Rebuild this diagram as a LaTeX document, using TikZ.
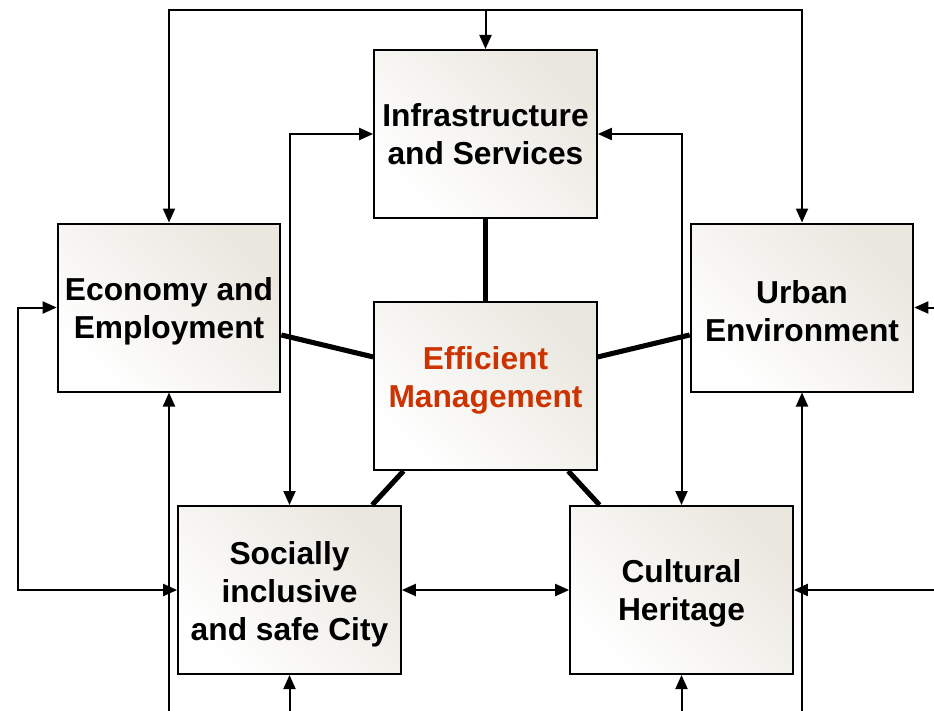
\documentclass[tikz,border=0pt]{standalone}
\usepackage{fontspec}
\setmainfont{Liberation Sans}
\usetikzlibrary{arrows.meta,calc}
\definecolor{boxgray}{RGB}{234,231,223}
\definecolor{mgmtred}{RGB}{204,51,0}
\tikzset{
  px/.style={x=0.75pt,y=-0.75pt},
  labelfont/.style={font=\fontsize{23.8}{28.5}\selectfont\bfseries},
  topic/.style={draw=black,line width=1.5pt,minimum width=167pt,minimum height=126pt,
    inner sep=0pt,align=center,top color=boxgray,bottom color=white,shading angle=-45,
    labelfont},
  conn/.style={line width=1.5pt,draw=black},
  tip/.style={-{Triangle[length=10.5pt,width=9pt]}},
  tips/.style={{Triangle[length=10.5pt,width=9pt]}-{Triangle[length=10.5pt,width=9pt]}},
  spoke/.style={line width=3.8pt,draw=black}
}
\begin{document}
\begin{tikzpicture}[px]
\useasboundingbox (0,0) rectangle (934,710);
\fill[white] (0,0) rectangle (934,710);

\node[topic] (infra) at (485.5,134) {Infrastructure\\and Services};
\node[topic] (econ) at (169,307.5) {\\[-5.5pt]Economy and\\Employment};
\node[topic] (urban) at (802,307.5) {\\[-5.5pt]Urban\\Environment};
\node[topic] (eff) at (485.5,386) {};
\node[labelfont,text=mgmtred,align=center,inner sep=0pt] (effLabel) at ([yshift=4.5pt]eff.center) {Efficient\\Management};
\node[topic] (soc) at (289.5,590) {\\[-5.5pt]Socially\\inclusive\\and safe City};
\node[topic] (cult) at (681.5,590) {\\[-5.5pt]Cultural\\Heritage};

\coordinate (tl) at (169,10);
\coordinate (tr) at (802,10);
\coordinate (tm) at (485.5,10);
\coordinate (lx) at (18,450);
\coordinate (bEcon) at (169,712);
\coordinate (bSoc) at (289.5,712);
\coordinate (bCult) at (681.5,712);
\coordinate (bUrban) at (802,712);
\coordinate (rUrban) at (936,307.5);
\coordinate (rCult) at (936,590);

% thin connectors
\draw[conn,tips] (econ.north) -- (tl) -- (tr) -- (urban.north);
\draw[conn,tip] (tm) -- (infra.north);
\draw[conn,tips] (econ.west) -| (lx) |- (soc.west);
\draw[conn,tip] (bEcon) -- (econ.south);
\draw[conn,tip] (bSoc) -- (soc.south);
\draw[conn,tip] (bCult) -- (cult.south);
\draw[conn,tip] (bUrban) -- (urban.south);
\draw[conn,tip] (rUrban) -- (urban.east);
\draw[conn,tip] (rCult) -- (cult.east);
\draw[conn,tips] (infra.west) -| (soc.north);
\draw[conn,tips] (infra.east) -| (cult.north);
\draw[conn,tips] (soc.east) -- (cult.west);

% thick spokes
\draw[spoke] (infra.south) -- (eff.north);
\draw[spoke] ([yshift=-20.6pt]econ.east) -- ([yshift=21.8pt]eff.west);
\draw[spoke] ([yshift=21.8pt]eff.east) -- ([yshift=-20.6pt]urban.east -| urban.west);
\draw[spoke] ([xshift=-61.5pt]eff.south) -- ([xshift=62pt]soc.north);
\draw[spoke] ([xshift=62pt]eff.south) -- ([xshift=-61.5pt]cult.north);
\end{tikzpicture}
\end{document}
